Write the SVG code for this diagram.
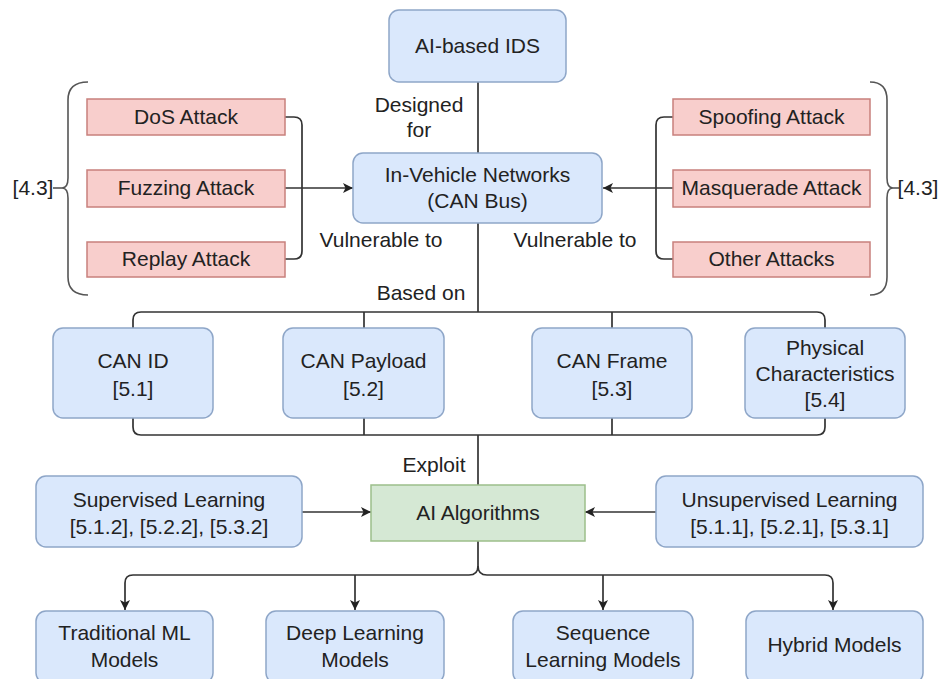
<svg xmlns="http://www.w3.org/2000/svg" width="945" height="679" viewBox="0 0 945 679">
<style>
.blue{fill:#dae8fc;stroke:#8ea6c8;stroke-width:1.5}
.red{fill:#f8cecc;stroke:#c8807c;stroke-width:1.5}
.green{fill:#d5e8d4;stroke:#9cbf8a;stroke-width:1.5}
.t{font-family:"Liberation Sans",Arial,sans-serif;font-size:21px;fill:#222;text-anchor:middle}
.c{fill:none;stroke:#333;stroke-width:1.7}
.b{fill:none;stroke:#555;stroke-width:1.6}
</style>
<defs>
<marker id="arr" viewBox="0 0 10 10" refX="10" refY="5" markerWidth="12" markerHeight="10" orient="auto" markerUnits="userSpaceOnUse">
<path d="M0,0 L10,5 L0,10 L2.5,5 Z" fill="#222"/>
</marker>
</defs>
<rect width="945" height="679" fill="#ffffff"/>
<g id="connectors">
<path class="c" d="M478 82 L478 153"/>
<path class="c" d="M478 223 L478 312"/>
<path class="c" d="M478 435 L478 485"/>
<path class="c" d="M285 117 L294 117 Q302 117 302 125 L302 251 Q302 259 294 259 L285 259"/>
<path class="c" d="M285 188 L353 188" marker-end="url(#arr)"/>
<path class="c" d="M673 117 L664 117 Q656 117 656 125 L656 251 Q656 259 664 259 L673 259"/>
<path class="c" d="M673 188 L603 188" marker-end="url(#arr)"/>
<path class="c" d="M133 328 L133 320 Q133 312 141 312 L817 312 Q825 312 825 320 L825 328"/>
<path class="c" d="M364 312 L364 328 M612 312 L612 328"/>
<path class="c" d="M133 418 L133 427 Q133 435 141 435 L817 435 Q825 435 825 427 L825 418"/>
<path class="c" d="M364 418 L364 435 M612 418 L612 435"/>
<path class="c" d="M302 512 L371 512" marker-end="url(#arr)"/>
<path class="c" d="M656 512 L585 512" marker-end="url(#arr)"/>
<path class="c" d="M478 541 L478 566 Q478 575 469 575 L133 575 Q125 575 125 583 L125 610" marker-end="url(#arr)"/>
<path class="c" d="M478 566 Q478 575 487 575 L825 575 Q833 575 833 583 L833 610" marker-end="url(#arr)"/>
<path class="c" d="M355 575 L355 610" marker-end="url(#arr)"/>
<path class="c" d="M603 575 L603 610" marker-end="url(#arr)"/>
<path class="b" d="M88 82 Q68 82 68 100 L68 178 Q68 188 62 188 Q68 188 68 198 L68 277 Q68 295 88 295"/>
<path class="b" d="M53 188 L62 188"/>
<path class="b" d="M870 82 Q887 82 887 100 L887 178 Q887 188 893 188 Q887 188 887 198 L887 277 Q887 295 870 295"/>
<path class="b" d="M893 188 L899 188"/>
</g>
<g id="labels">
<text class="t" x="419" y="112">Designed</text>
<text class="t" x="419" y="137">for</text>
<text class="t" x="381" y="247">Vulnerable to</text>
<text class="t" x="575" y="247">Vulnerable to</text>
<text class="t" x="421" y="300">Based on</text>
<text class="t" x="434" y="472">Exploit</text>
<text class="t" x="33" y="195">[4.3]</text>
<text class="t" x="918" y="195">[4.3]</text>
</g>
<g id="ids"><rect class="blue" x="389" y="10" width="177" height="72" rx="10"/><text class="t" x="477.5" y="53">AI-based IDS</text></g>
<g id="ivn"><rect class="blue" x="353" y="153" width="249" height="70" rx="10"/><text class="t" x="477.5" y="182">In-Vehicle Networks</text><text class="t" x="477.5" y="208">(CAN Bus)</text></g>
<g id="dos"><rect class="red" x="87" y="99" width="198" height="36"/><text class="t" x="186" y="124">DoS Attack</text></g>
<g id="fuzzing"><rect class="red" x="87" y="170" width="198" height="37"/><text class="t" x="186" y="195">Fuzzing Attack</text></g>
<g id="replay"><rect class="red" x="87" y="242" width="198" height="35"/><text class="t" x="186" y="266">Replay Attack</text></g>
<g id="spoofing"><rect class="red" x="673" y="99" width="197" height="36"/><text class="t" x="771.5" y="124">Spoofing Attack</text></g>
<g id="masquerade"><rect class="red" x="673" y="170" width="197" height="37"/><text class="t" x="771.5" y="195">Masquerade Attack</text></g>
<g id="other"><rect class="red" x="673" y="242" width="197" height="35"/><text class="t" x="771.5" y="266">Other Attacks</text></g>
<g id="canid"><rect class="blue" x="53" y="328" width="160" height="90" rx="10"/><text class="t" x="133" y="368">CAN ID</text><text class="t" x="133" y="396">[5.1]</text></g>
<g id="canpayload"><rect class="blue" x="283" y="328" width="161" height="90" rx="10"/><text class="t" x="363.5" y="368">CAN Payload</text><text class="t" x="363.5" y="396">[5.2]</text></g>
<g id="canframe"><rect class="blue" x="532" y="328" width="160" height="90" rx="10"/><text class="t" x="612" y="368">CAN Frame</text><text class="t" x="612" y="396">[5.3]</text></g>
<g id="physical"><rect class="blue" x="745" y="328" width="160" height="90" rx="10"/><text class="t" x="825" y="355">Physical</text><text class="t" x="825" y="381">Characteristics</text><text class="t" x="825" y="407">[5.4]</text></g>
<g id="supervised"><rect class="blue" x="36" y="476" width="266" height="71" rx="10"/><text class="t" x="169" y="507">Supervised Learning</text><text class="t" x="169" y="534">[5.1.2], [5.2.2], [5.3.2]</text></g>
<g id="aialgo"><rect class="green" x="371" y="485" width="214" height="56"/><text class="t" x="478" y="520">AI Algorithms</text></g>
<g id="unsupervised"><rect class="blue" x="656" y="476" width="267" height="71" rx="10"/><text class="t" x="789.5" y="507">Unsupervised Learning</text><text class="t" x="789.5" y="534">[5.1.1], [5.2.1], [5.3.1]</text></g>
<g id="traditional"><rect class="blue" x="36" y="611" width="177" height="72" rx="10"/><text class="t" x="124.5" y="640">Traditional ML</text><text class="t" x="124.5" y="667">Models</text></g>
<g id="deep"><rect class="blue" x="266" y="611" width="178" height="72" rx="10"/><text class="t" x="355" y="640">Deep Learning</text><text class="t" x="355" y="667">Models</text></g>
<g id="sequence"><rect class="blue" x="513" y="611" width="180" height="72" rx="10"/><text class="t" x="603" y="640">Sequence</text><text class="t" x="603" y="667">Learning Models</text></g>
<g id="hybrid"><rect class="blue" x="746" y="611" width="177" height="72" rx="10"/><text class="t" x="834.5" y="652">Hybrid Models</text></g>
</svg>
